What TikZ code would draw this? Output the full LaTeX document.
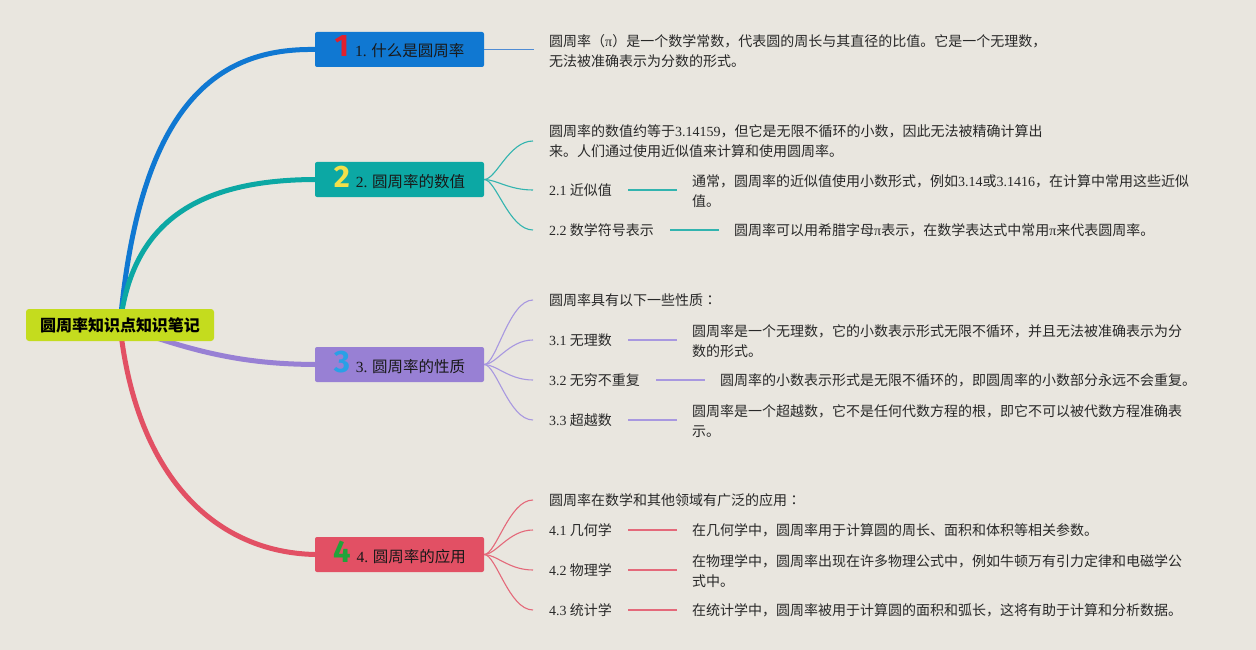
\documentclass[tikz,border=0pt]{standalone}
\usepackage{fontspec}
\setmainfont{Liberation Serif}
\newfontfamily\cjk{Noto Sans CJK SC}
\newfontfamily\cjkjp{Noto Sans CJK JP}
\newfontfamily\numfont{Fira Sans}
\newcommand\ltn[1]{{\rmfamily #1}}
\newcommand\fwcolon{{\cjkjp ：}}
\definecolor{bgc}{RGB}{233,230,223}
\definecolor{rootc}{RGB}{196,220,30}
\definecolor{c1}{RGB}{16,120,210}
\definecolor{c2}{RGB}{12,168,164}
\definecolor{c3}{RGB}{152,128,212}
\definecolor{c4}{RGB}{226,80,100}
\definecolor{s1}{RGB}{80,140,212}
\definecolor{s2}{RGB}{50,180,175}
\definecolor{s3}{RGB}{168,152,224}
\definecolor{s4}{RGB}{228,105,122}
\definecolor{n1c}{RGB}{225,32,45}
\definecolor{n2c}{RGB}{242,224,74}
\definecolor{n3c}{RGB}{42,160,230}
\definecolor{n4c}{RGB}{34,163,58}
\definecolor{txt}{RGB}{40,40,40}
\pgfdeclarelayer{back}
\pgfdeclarelayer{lines}
\pgfsetlayers{back,lines,main}
\tikzset{
  rootbox/.style={fill=rootc, rounded corners=3pt, minimum width=188pt, minimum height=32pt,
    inner sep=0pt, text=black, font=\cjk\bfseries\fontsize{16}{16}\selectfont},
  branchbox/.style={fill=#1, rounded corners=2pt, minimum width=169pt, minimum height=35pt,
    inner xsep=0pt, inner ysep=0pt, text height=17pt, text depth=2pt,
    text=black!90, font=\cjk\fontsize{15.5}{16}\selectfont},
  leaf/.style={anchor=west, inner sep=0pt, align=left, text=txt, font=\cjk\fontsize{14}{20}\selectfont},
  mainline/.style={draw=#1, line width=5pt, line cap=round},
  subline/.style={draw=#1, line width=1.1pt},
  linkline/.style={draw=#1, line width=1.6pt},
}
\newcommand\bnum[2]{{\numfont\bfseries\fontsize{31}{31}\selectfont\color{#1}#2}\hspace{6pt}}
\begin{document}
\begin{tikzpicture}[x=1pt,y=-1pt]
\begin{pgfonlayer}{back}
\fill[bgc] (0,0) rectangle (1256,650);
\end{pgfonlayer}
\useasboundingbox (0,0) rectangle (1256,650);

% root and branches
\node[rootbox] (root) at (120,325) {圆周率知识点知识笔记};
\node[branchbox=c1] (n1) at (399.5,49.5) {\bnum{n1c}{1}\ltn{1.} 什么是圆周率};
\node[branchbox=c2] (n2) at (399.5,179.5) {\bnum{n2c}{2}\ltn{2.} 圆周率的数值};
\node[branchbox=c3] (n3) at (399.5,364.5) {\bnum{n3c}{3}\ltn{3.} 圆周率的性质};
\node[branchbox=c4] (n4) at (399.5,554.5) {\bnum{n4c}{4}\ltn{4.} 圆周率的应用};

% branch 1
\node[leaf] (t1) at (549,51) {圆周率（\ltn{π}）是一个数学常数，代表圆的周长与其直径的比值。它是一个无理数，\\无法被准确表示为分数的形式。};

% branch 2
\node[leaf] (t2) at (549,141) {圆周率的数值约等于\ltn{3.14159}，但它是无限不循环的小数，因此无法被精确计算出\\来。人们通过使用近似值来计算和使用圆周率。};
\node[leaf] (l21) at (549,190) {\ltn{2.1} 近似值};
\node[leaf] (d21) at (692,191) {通常，圆周率的近似值使用小数形式，例如\ltn{3.14}或\ltn{3.1416}，在计算中常用这些近似\\值。};
\node[leaf] (l22) at (549,230) {\ltn{2.2} 数学符号表示};
\node[leaf] (d22) at (734,230) {圆周率可以用希腊字母\ltn{π}表示，在数学表达式中常用\ltn{π}来代表圆周率。};

% branch 3
\node[leaf] (t3) at (549,300) {圆周率具有以下一些性质\fwcolon};
\node[leaf] (l31) at (549,340) {\ltn{3.1} 无理数};
\node[leaf] (d31) at (692,341) {圆周率是一个无理数，它的小数表示形式无限不循环，并且无法被准确表示为分\\数的形式。};
\node[leaf] (l32) at (549,380) {\ltn{3.2} 无穷不重复};
\node[leaf] (d32) at (720,380) {圆周率的小数表示形式是无限不循环的，即圆周率的小数部分永远不会重复。};
\node[leaf] (l33) at (549,420) {\ltn{3.3} 超越数};
\node[leaf] (d33) at (692,421) {圆周率是一个超越数，它不是任何代数方程的根，即它不可以被代数方程准确表\\示。};

% branch 4
\node[leaf] (t4) at (549,500) {圆周率在数学和其他领域有广泛的应用\fwcolon};
\node[leaf] (l41) at (549,530) {\ltn{4.1} 几何学};
\node[leaf] (d41) at (692,530) {在几何学中，圆周率用于计算圆的周长、面积和体积等相关参数。};
\node[leaf] (l42) at (549,570) {\ltn{4.2} 物理学};
\node[leaf] (d42) at (692,571) {在物理学中，圆周率出现在许多物理公式中，例如牛顿万有引力定律和电磁学公\\式中。};
\node[leaf] (l43) at (549,610) {\ltn{4.3} 统计学};
\node[leaf] (d43) at (692,610) {在统计学中，圆周率被用于计算圆的面积和弧长，这将有助于计算和分析数据。};

\begin{pgfonlayer}{lines}
% main branches
\draw[mainline=c1] (root.center) .. controls (140,100) and (220,48) .. (n1.west);
\draw[mainline=c2] (root.center) .. controls (132,220) and (200,180) .. (n2.west);
\draw[mainline=c3] (root.center) .. controls (200,355) and (250,364) .. (n3.west);
\draw[mainline=c4] (root.center) .. controls (135,470) and (210,552) .. (n4.west);

% branch 1 link
\draw[subline=s1, line width=1.5pt] (n1.east) -- ([xshift=-15pt]t1.west |- n1.east);

% branch 2 fan
\foreach \t in {t2,l21,l22}
  \draw[subline=s2] (n2.east) .. controls +(12,0) and +(-24,0) .. ([xshift=-16pt]\t.west);
\draw[linkline=s2] ([xshift=16pt]l21.east) -- ([xshift=-15pt]d21.west |- l21.east);
\draw[linkline=s2] ([xshift=16pt]l22.east) -- ([xshift=-15pt]d22.west |- l22.east);

% branch 3 fan
\foreach \t in {t3,l31,l32,l33}
  \draw[subline=s3] (n3.east) .. controls +(12,0) and +(-24,0) .. ([xshift=-16pt]\t.west);
\draw[linkline=s3] ([xshift=16pt]l31.east) -- ([xshift=-15pt]d31.west |- l31.east);
\draw[linkline=s3] ([xshift=16pt]l32.east) -- ([xshift=-15pt]d32.west |- l32.east);
\draw[linkline=s3] ([xshift=16pt]l33.east) -- ([xshift=-15pt]d33.west |- l33.east);

% branch 4 fan
\foreach \t in {t4,l41,l42,l43}
  \draw[subline=s4] (n4.east) .. controls +(12,0) and +(-24,0) .. ([xshift=-16pt]\t.west);
\draw[linkline=s4] ([xshift=16pt]l41.east) -- ([xshift=-15pt]d41.west |- l41.east);
\draw[linkline=s4] ([xshift=16pt]l42.east) -- ([xshift=-15pt]d42.west |- l42.east);
\draw[linkline=s4] ([xshift=16pt]l43.east) -- ([xshift=-15pt]d43.west |- l43.east);
\end{pgfonlayer}
\end{tikzpicture}
\end{document}
